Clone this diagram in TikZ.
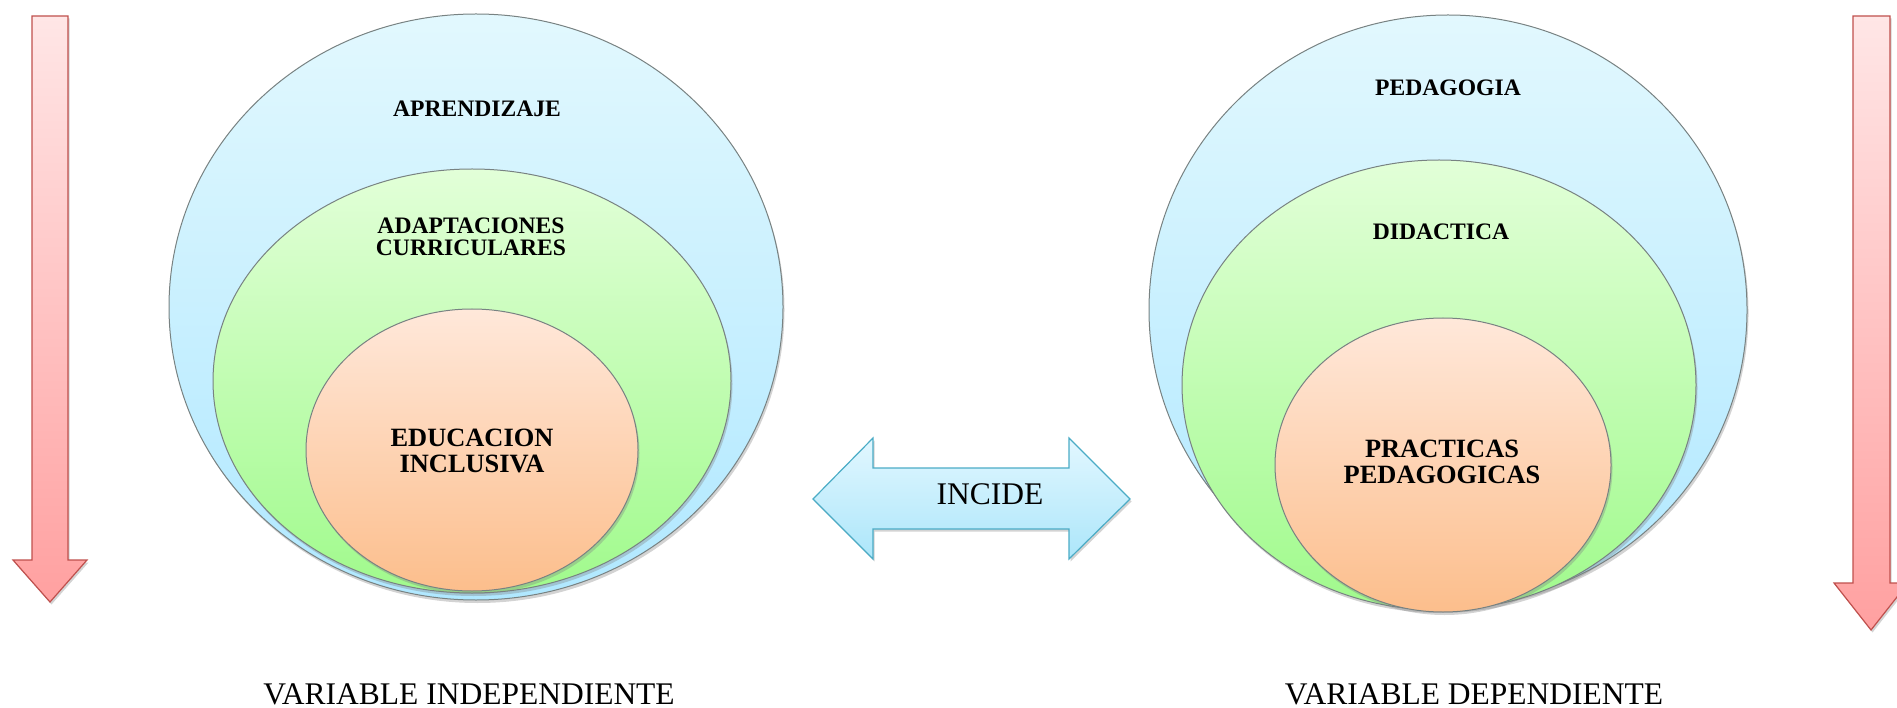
\documentclass[tikz,border=0pt]{standalone}
\usepackage{fontspec}
\setmainfont{Liberation Serif}
\usetikzlibrary{shapes.geometric,shadows}
\definecolor{blueT}{RGB}{226,248,254}
\definecolor{blueB}{RGB}{176,232,255}
\definecolor{greenT}{RGB}{226,255,216}
\definecolor{greenB}{RGB}{160,250,140}
\definecolor{orangeT}{RGB}{255,232,218}
\definecolor{orangeB}{RGB}{252,190,140}
\definecolor{redT}{RGB}{255,230,230}
\definecolor{redB}{RGB}{255,160,160}
\definecolor{redL}{RGB}{192,80,77}
\definecolor{arrT}{RGB}{226,247,255}
\definecolor{arrB}{RGB}{172,230,250}
\definecolor{arrL}{RGB}{75,172,198}
\definecolor{ringL}{RGB}{120,130,130}
\tikzset{
  ring/.style={ellipse, draw=ringL, line width=1pt, inner sep=0pt,
    drop shadow={shadow xshift=1.5pt, shadow yshift=-3pt, opacity=0.35}},
  bluering/.style={ring, top color=blueT, bottom color=blueB},
  greenring/.style={ring, top color=greenT, bottom color=greenB},
  orangering/.style={ring, top color=orangeT, bottom color=orangeB},
  lbl/.style={font=\bfseries\fontsize{23.6}{25}\selectfont, align=center, inner sep=0pt},
  biglbl/.style={font=\bfseries\fontsize{26.4}{29}\selectfont, align=center, inner sep=0pt},
  plain/.style={font=\fontsize{31.5}{34}\selectfont, inner sep=0pt},
  redarrow/.style={draw=redL, line width=1.2pt, top color=redT, bottom color=redB,
    drop shadow={shadow xshift=1.5pt, shadow yshift=-2.5pt, opacity=0.35}},
  bluearrow/.style={draw=arrL, line width=1.2pt, top color=arrT, bottom color=arrB,
    drop shadow={shadow xshift=1.5pt, shadow yshift=-2.5pt, opacity=0.35}}
}
\begin{document}
\begin{tikzpicture}[x=1pt,y=-1pt]
\useasboundingbox (0,0) rectangle (1897,708);
% red arrows
\path[redarrow] (32,16) -- (68,16) -- (68,560) -- (87,560) -- (50,602) -- (13,560) -- (32,560) -- cycle;
\path[redarrow] (1853,16) -- (1890,16) -- (1890,583) -- (1908,583) -- (1871,630) -- (1834,583) -- (1853,583) -- cycle;
% left rings
\node[bluering, minimum width=614pt, minimum height=586pt] (lb) at (476,307) {};
\node[greenring, minimum width=518pt, minimum height=424pt] (lg) at (472,381) {};
\node[orangering, minimum width=332pt, minimum height=282pt] (lo) at (472,450) {};
\node[lbl] (t1) at (477,109) {APRENDIZAJE};
\node[lbl] (t2) at (471,237) {ADAPTACIONES\\[-3pt]CURRICULARES};
\node[biglbl] (t3) at (472,451) {EDUCACION\\[-3pt]INCLUSIVA};
% right rings
\node[bluering, minimum width=598pt, minimum height=590pt] (rb) at (1448,310) {};
\node[greenring, minimum width=514pt, minimum height=450pt] (rg) at (1439,385) {};
\node[orangering, minimum width=336pt, minimum height=294pt] (ro) at (1443,465) {};
\node[lbl] (u1) at (1448,88) {PEDAGOGIA};
\node[lbl] (u2) at (1441,232) {DIDACTICA};
\node[biglbl] (u3) at (1442,462) {PRACTICAS\\[-3pt]PEDAGOGICAS};
% double arrow
\path[bluearrow] (813,499) -- (873,438) -- (873,468) -- (1069,468) -- (1069,438) -- (1130,499) -- (1069,559) -- (1069,529) -- (873,529) -- (873,559) -- cycle;
\node[plain] (inc) at (990,494) {INCIDE};
% bottom labels
\node[plain, anchor=base] (vi) at (469,704) {VARIABLE INDEPENDIENTE};
\node[plain, anchor=base] (vd) at (1474,704) {VARIABLE DEPENDIENTE};
\end{tikzpicture}
\end{document}
